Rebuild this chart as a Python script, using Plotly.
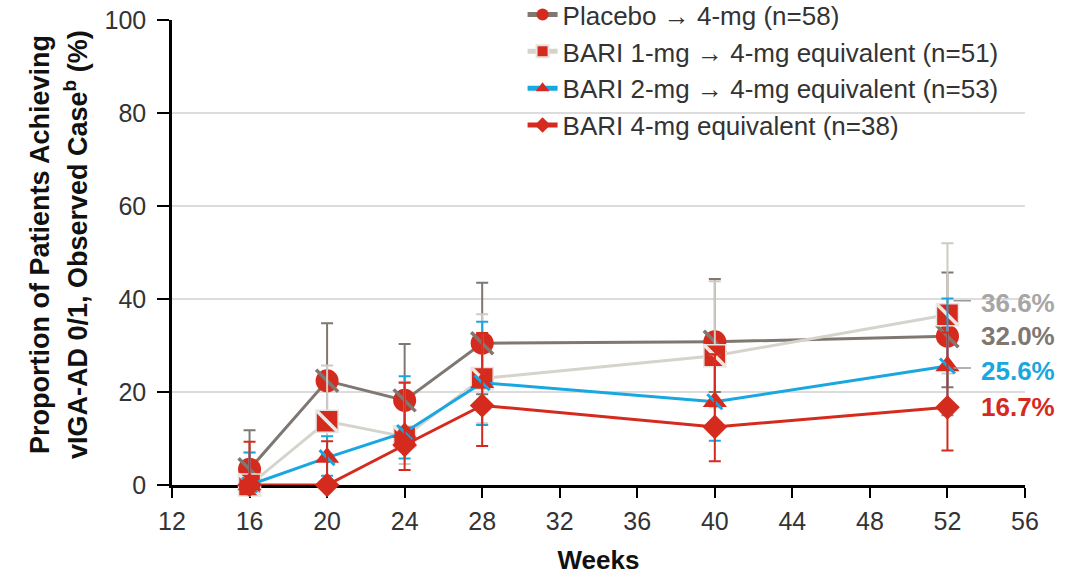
import plotly.graph_objects as go

# ---------------- data ----------------
weeks = [16, 20, 24, 28, 40, 52]

placebo = [3.4, 22.4, 18.2, 30.5, 30.8, 32.0]
placebo_hi = [11.8, 34.8, 30.3, 43.5, 44.3, 45.7]
placebo_lo = [1.0, 13.6, 10.2, 19.5, 20.0, 21.0]

bari1 = [0.0, 13.7, 10.4, 22.9, 27.8, 36.6]
bari1_hi = [7.0, 25.7, 22.2, 36.7, 43.8, 52.0]
bari1_lo = [0.0, 6.8, 4.5, 13.3, 16.7, 24.0]

bari2 = [0.0, 5.9, 11.3, 22.0, 17.9, 25.6]
bari2_hi = [7.0, 10.5, 23.4, 35.1, 28.0, 40.1]
bari2_lo = [0.0, 2.0, 5.7, 12.9, 9.5, 15.0]

bari4 = [0.0, 0.0, 8.6, 17.1, 12.5, 16.7]
bari4_hi = [9.3, 9.4, 22.0, 32.7, 28.1, 32.8]
bari4_lo = [0.0, 0.0, 3.2, 8.4, 5.1, 7.4]

names = [
    "Placebo \u2192 4-mg (n=58)",
    "BARI 1-mg \u2192 4-mg equivalent (n=51)",
    "BARI 2-mg \u2192 4-mg equivalent (n=53)",
    "BARI 4-mg equivalent (n=38)",
]
end_labels = ["32.0%", "36.6%", "25.6%", "16.7%"]

# ---------------- styles ----------------
RED = "#d52b1e"
DGRAY = "#7e7772"
LGRAY = "#d6d3cc"
BLUE = "#19a7e0"
FONT = "Arial, Liberation Sans, sans-serif"

series = [
    dict(y=placebo, hi=placebo_hi, lo=placebo_lo, line=DGRAY, err=DGRAY,
         symbol="circle", size=23, border=RED, bw=0, stripe=DGRAY, ssize=22, sw=3.5,
         lab_color="#7e7772", yshift=0, leader=None),
    dict(y=bari1, hi=bari1_hi, lo=bari1_lo, line=LGRAY, err="#cfcbc3",
         symbol="square", size=22, border="#e6e3de", bw=1.5, stripe="#ebe8e3", ssize=22, sw=3.5,
         lab_color="#a6a6a6", yshift=12, leader=14),
    dict(y=bari2, hi=bari2_hi, lo=bari2_lo, line=BLUE, err=BLUE,
         symbol="triangle-up", size=21, border=RED, bw=0, stripe=BLUE, ssize=15, sw=3,
         lab_color=BLUE, yshift=-5, leader=-2),
    dict(y=bari4, hi=bari4_hi, lo=bari4_lo, line=RED, err=RED,
         symbol="diamond", size=19, border=RED, bw=0, stripe=None, ssize=0, sw=0,
         lab_color=RED, yshift=0, leader=None),
]

fig = go.Figure()

for name, s in zip(names, series):
    plus = [h - v for h, v in zip(s["hi"], s["y"])]
    minus = [v - l for v, l in zip(s["y"], s["lo"])]
    fig.add_trace(go.Scatter(
        x=weeks, y=s["y"], name=name, mode="lines+markers",
        line=dict(color=s["line"], width=3),
        marker=dict(symbol=s["symbol"], size=s["size"], color=RED,
                    line=dict(color=s["border"], width=s["bw"])),
        error_y=dict(type="data", symmetric=False, array=plus, arrayminus=minus,
                     color=s["err"], thickness=2, width=6),
        cliponaxis=False,
    ))
    if s["stripe"]:
        fig.add_trace(go.Scatter(
            x=weeks, y=s["y"], mode="markers", showlegend=False, hoverinfo="skip",
            marker=dict(symbol="line-nw", size=s["ssize"],
                        line=dict(color=s["stripe"], width=s["sw"])),
            cliponaxis=False,
        ))

annotations = []
for lab, s in zip(end_labels, series):
    annotations.append(dict(
        x=weeks[-1], y=s["y"][-1], xref="x", yref="y", text="<b>%s</b>" % lab,
        showarrow=False, xanchor="left", yanchor="middle", xshift=32, yshift=s["yshift"],
        font=dict(family=FONT, size=26, color=s["lab_color"]),
    ))
    if s["leader"] is not None:
        # short data-label leader line next to the point
        annotations.append(dict(
            x=weeks[-1], y=s["y"][-1], xref="x", yref="y", text="",
            showarrow=True, arrowhead=0, arrowwidth=1.5, arrowcolor="#9a9a9a",
            ax=25, ay=0, standoff=6, yshift=s["leader"],
        ))

ytitle_lines = ["<b>Proportion of Patients Achieving</b>",
                "<b>vIGA-AD 0/1, Observed Case<sup>b</sup> (%)</b>"]
for i, t in enumerate(ytitle_lines):
    annotations.append(dict(
        x=0, y=0.516, xref="paper", yref="paper", text=t, textangle=-90,
        showarrow=False, xanchor="center", yanchor="middle", xshift=-132 + 36 * i,
        font=dict(family=FONT, size=27, color="#111111"),
    ))

fig.update_layout(
    width=1089, height=577,
    margin=dict(l=172, r=64, t=20, b=92, autoexpand=False),
    plot_bgcolor="white", paper_bgcolor="white",
    font=dict(family=FONT, size=25, color="#333333"),
    showlegend=True,
    legend=dict(x=0.411, y=1.062, xanchor="left", yanchor="top",
                bgcolor="rgba(0,0,0,0)", font=dict(family=FONT, size=26, color="#333333"),
                tracegroupgap=0, itemsizing="constant"),
    annotations=annotations,
    xaxis=dict(range=[12, 56], tick0=12, dtick=4, showgrid=False, zeroline=False,
               showline=True, linecolor="black", linewidth=2.5, ticks="outside",
               ticklen=10, tickwidth=2, tickcolor="black", layer="below traces",
               ticklabelstandoff=2,
               tickfont=dict(family=FONT, size=25, color="#333333"),
               title=dict(text="<b>Weeks</b>", font=dict(family=FONT, size=26, color="#111111"),
                          standoff=18)),
    yaxis=dict(range=[0, 100], tick0=0, dtick=20, showgrid=True, gridcolor="#dcdcdc",
               gridwidth=1.5, zeroline=False, showline=True, linecolor="black",
               linewidth=2.5, ticks="outside", ticklen=12, tickwidth=2, tickcolor="black",
               layer="below traces", ticklabelstandoff=6,
               tickfont=dict(family=FONT, size=25, color="#333333")),
)

fig.write_html("out.html")
